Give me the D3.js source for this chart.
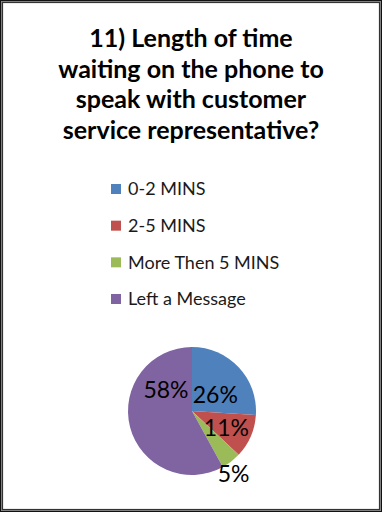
<!DOCTYPE html>
<html>
<head>
<meta charset="utf-8">
<script src="https://cdn.jsdelivr.net/npm/d3@7"></script>
<style>
  html, body { margin: 0; padding: 0; background: #fff; }
  svg { display: block; }
</style>
</head>
<body>
<svg id="chart" width="382" height="512"></svg>
<script>
const titleLines = ["11) Length of time", "waiting on the phone to", "speak with customer", "service representative?"];
const categories = ["0-2 MINS", "2-5 MINS", "More Then 5 MINS", "Left a Message"];
const values = [26, 11, 5, 58];
const colors = ["#4F81BD", "#C0504D", "#9BBB59", "#8064A2"];
// label nudges (layout only), relative to slice centroid
const labelNudge = [[0, 6], [5, 4], [22, 37], [5, -29]];

const svg = d3.select("#chart");
const W = 382, H = 512;
const font = "Lato, 'Open Sans', sans-serif";

// frame
svg.append("rect").attr("x", 0.5).attr("y", 0.5).attr("width", W - 1).attr("height", H - 1)
  .attr("fill", "#fff").attr("stroke", "#111").attr("stroke-width", 1);
svg.append("rect").attr("x", 1.5).attr("y", 1.5).attr("width", W - 3).attr("height", H - 3)
  .attr("fill", "none").attr("stroke", "#8a8a8a").attr("stroke-width", 1);
svg.append("rect").attr("x", 2.5).attr("y", 2.5).attr("width", W - 5).attr("height", H - 5)
  .attr("fill", "none").attr("stroke", "#333").attr("stroke-width", 1.2);

// title
const title = svg.append("text").attr("text-anchor", "middle")
  .attr("font-family", font).attr("font-weight", "bold").attr("font-size", 25).attr("fill", "#000");
titleLines.forEach((t, i) => {
  title.append("tspan").attr("x", 191).attr("y", 47 + i * 30.7).text(t);
});

// legend
const legendY = d3.scalePoint().domain(categories).range([189, 299]);
const lg = svg.append("g").selectAll("g").data(categories).join("g")
  .attr("transform", d => `translate(111,${legendY(d)})`);
lg.append("rect").attr("x", 0).attr("y", -5).attr("width", 10).attr("height", 10)
  .attr("fill", (d, i) => colors[i]);
lg.append("text").attr("x", 17).attr("y", 0).attr("dy", "0.35em")
  .attr("font-family", font).attr("font-size", 18).attr("fill", "#1a1a1a").text(d => d);

// pie
const cx = 192, cy = 411, r = 64;
const pie = d3.pie().sort(null).value(d => d)(values);
const arc = d3.arc().innerRadius(0).outerRadius(r);
const g = svg.append("g").attr("transform", `translate(${cx},${cy})`);
g.selectAll("path").data(pie).join("path")
  .attr("d", arc).attr("fill", (d, i) => colors[i]);

const total = d3.sum(values);
g.selectAll("text.lbl").data(pie).join("text").attr("class", "lbl")
  .attr("transform", (d, i) => {
    const c = arc.centroid(d);
    return `translate(${c[0] + labelNudge[i][0]},${c[1] + labelNudge[i][1]})`;
  })
  .attr("text-anchor", "middle").attr("dy", "0.36em")
  .attr("font-family", font).attr("font-size", 23).attr("fill", "#000")
  .text(d => Math.round(d.value / total * 100) + "%");
</script>
</body>
</html>
